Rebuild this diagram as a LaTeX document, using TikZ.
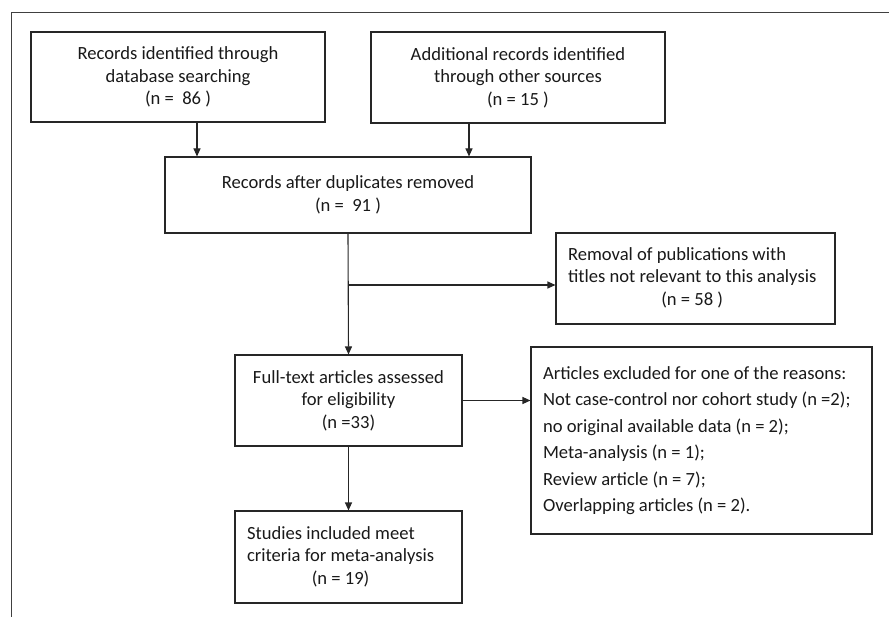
\documentclass[tikz,border=0pt]{standalone}
\usepackage{fontspec}
\setmainfont{Carlito}
\usetikzlibrary{arrows.meta}

\begin{document}
\begin{tikzpicture}[x=1pt,y=-1pt,
  recbox/.style={draw=black!85,line width=1.1pt,align=center,inner sep=0pt,
    font=\fontsize{18.6}{22.5}\selectfont,text=black!90},
  leftbox/.style={recbox,inner xsep=12pt,align=flush left},
  flow/.style={draw=black!85,line width=1.1pt,-{Triangle[length=8pt,width=7pt]}}]
  \useasboundingbox (0,0) rectangle (889,617);
  \draw[black!75,line width=1pt] (11,617) -- (11,13) -- (889,13);

  % identification
  \node[recbox,minimum width=294pt,minimum height=90pt] (ident) at (178,77)
    {Records identified through\\database searching\\(n = \ 86 )};
  \node[recbox,minimum width=294pt,minimum height=91pt] (other) at (518,77.5)
    {Additional records identified\\through other sources\\(n = 15 )};

  % screening
  \node[recbox,minimum width=366pt,minimum height=76pt] (dupl) at (348,195)
    {Records after duplicates removed\\(n = \ 91 )};
  \node[leftbox,text width=255pt,minimum height=91pt] (title) at (695.5,278.5)
    {\begin{tabular}{@{}l@{}}Removal of publications with\\
     titles not relevant to this analysis\\
     \multicolumn{1}{@{}c@{}}{(n = 58 )}\end{tabular}};

  % eligibility
  \node[recbox,minimum width=227pt,minimum height=91pt] (full) at (348.5,400.5)
    {Full-text articles assessed\\for eligibility\\(n =33)};
  \node[leftbox,text width=317pt,minimum height=187pt,
    font=\fontsize{18.6}{26.5}\selectfont] (excl) at (701.5,440.5)
    {Articles excluded for one of the reasons:\\
     Not case-control nor cohort study (n =2);\\
     no original available data (n = 2);\\
     Meta-analysis (n = 1);\\
     Review article (n = 7);\\
     Overlapping articles (n = 2).};

  % included
  \node[leftbox,text width=203pt,minimum height=92pt] (incl) at (348.5,557)
    {\begin{tabular}{@{}l@{}}Studies included meet\\
     criteria for meta-analysis\\
     \multicolumn{1}{@{}c@{}}{(n = 19)}\end{tabular}};

  \coordinate (a1) at (197,0);
  \coordinate (a2) at (469,0);
  \coordinate (br) at (348,285);

  \draw[flow] (a1 |- ident.south) -- (a1 |- dupl.north);
  \draw[flow] (a2 |- other.south) -- (a2 |- dupl.north);
  \draw[flow] (dupl.south) -- (full.north);
  \draw[flow] (br) -- (br -| title.west);
  \draw[flow] (full.east) -- (full.east -| excl.west);
  \draw[flow] (full.south) -- (incl.north);
\end{tikzpicture}
\end{document}
